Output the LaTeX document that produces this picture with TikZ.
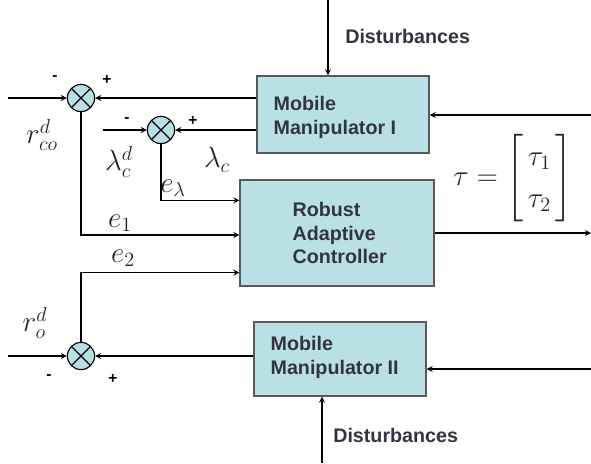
\documentclass[tikz,border=0pt]{standalone}
\usepackage{amsmath}
\usepackage{fontspec}
\setmainfont{Liberation Sans}
\usepackage{tikz}
\usetikzlibrary{shapes.geometric, arrows, positioning}
\definecolor{boxfill}{RGB}{185,224,228}
\definecolor{boxtext}{RGB}{50,52,64}
\tikzstyle{block} = [rectangle, draw=black!65, fill=boxfill, line width=0.9pt]
\tikzstyle{blocktext} = [text=boxtext, font=\fontsize{14}{17}\selectfont\bfseries, align=left, anchor=west, inner sep=0pt]
\tikzstyle{summer} = [circle, draw=black, fill=boxfill, minimum size=0.68cm, inner sep=0pt, line width=0.8pt, path picture={\draw[line width=0.8pt] (path picture bounding box.north west) -- (path picture bounding box.south east) (path picture bounding box.north east) -- (path picture bounding box.south west);}]
\tikzstyle{sign} = [font=\fontsize{11}{13}\selectfont\bfseries, inner sep=0pt]
\tikzstyle{mathlbl} = [font=\fontsize{20}{24}\selectfont, inner sep=0pt, text=black!85]
\tikzstyle{arrow} = [line width=0.9pt,->,>=stealth]

\begin{document}
\begin{tikzpicture}[x=0.025cm, y=-0.025cm]
\useasboundingbox (0,0) rectangle (591,463);

% blocks
\node (mm1) [block, minimum width=4.3cm, minimum height=1.925cm] at (343,114.5) {};
\node (mm1txt) [blocktext] at ([xshift=0.425cm,yshift=-0.08cm]mm1.west) {Mobile\\Manipulator I};
\node (ctrl) [block, minimum width=4.85cm, minimum height=2.65cm] at (337,233) {};
\node (ctrltxt) [blocktext] at ([xshift=1.325cm]ctrl.west) {Robust\\Adaptive\\Controller};
\node (mm2) [block, minimum width=4.3cm, minimum height=1.85cm] at (340,359) {};
\node (mm2txt) [blocktext] at ([xshift=0.425cm,yshift=0.04cm]mm2.west) {Mobile\\Manipulator II};

% summing junctions
\node (c1) [summer] at (81,98) {};
\node (c2) [summer] at (161,130) {};
\node (c3) [summer] at (81,356) {};

% free ends
\coordinate (in1) at (8,98);
\coordinate (in2) at (103,130);
\coordinate (in3) at (8,356);
\coordinate (fb1) at (591,115);
\coordinate (fb2) at (591,369);
\coordinate (out) at (591,233);
\coordinate (d1) at (328,0);
\coordinate (d2) at (322,463);

% labels
\node (dist1) [blocktext] at (345,36) {Disturbances};
\node (dist2) [blocktext] at (333,435) {Disturbances};
\node (rco) [mathlbl] at (42,135) {$r_{co}^{d}$};
\node (lamd) [mathlbl] at (119,162) {$\lambda_c^{d}$};
\node (lam) [mathlbl] at (217,160) {$\lambda_c$};
\node (elam) [mathlbl] at (173,188) {$e_\lambda$};
\node (e1) [mathlbl] at (120,223) {$e_1$};
\node (e2) [mathlbl] at (123,258) {$e_2$};
\node (ro) [mathlbl] at (35,323) {$r_o^{d}$};
\node (tau) [mathlbl] at (513,178) {$\tau=\renewcommand{\arraystretch}{1.25}\begin{bmatrix}\,\tau_1\,\\ \,\tau_2\,\end{bmatrix}$};
\node (s1m) [sign] at (55,78) {-};
\node (s1p) [sign] at (107,80) {+};
\node (s2m) [sign] at (127,120) {-};
\node (s2p) [sign] at (193,121) {+};
\node (s3m) [sign] at (49,377) {-};
\node (s3p) [sign] at (113,379) {+};

% connectors
\draw [arrow] (d1) -- (d1 |- mm1.north);
\draw [arrow] (d2) -- (d2 |- mm2.south);
\draw [arrow] (fb1) -- (fb1 -| mm1.east);
\draw [arrow] (fb2) -- (fb2 -| mm2.east);
\draw [arrow] (in1) -- (c1.west);
\draw [arrow] (in2) -- (c2.west);
\draw [arrow] (in3) -- (c3.west);
\draw [arrow] (c1 -| mm1.west) -- (c1.east);
\draw [arrow] (c2 -| mm1.west) -- (c2.east);
\draw [arrow] (c3 -| mm2.west) -- (c3.east);
\draw [arrow] (c2.south) |- ([yshift=-0.525cm]ctrl.north west);
\draw [arrow] (c1.south) |- ([yshift=-0.05cm]ctrl.west);
\draw [arrow] (c3.north) |- ([yshift=0.35cm]ctrl.south west);
\draw [arrow] (ctrl.east) -- (out);
\end{tikzpicture}
\end{document}
